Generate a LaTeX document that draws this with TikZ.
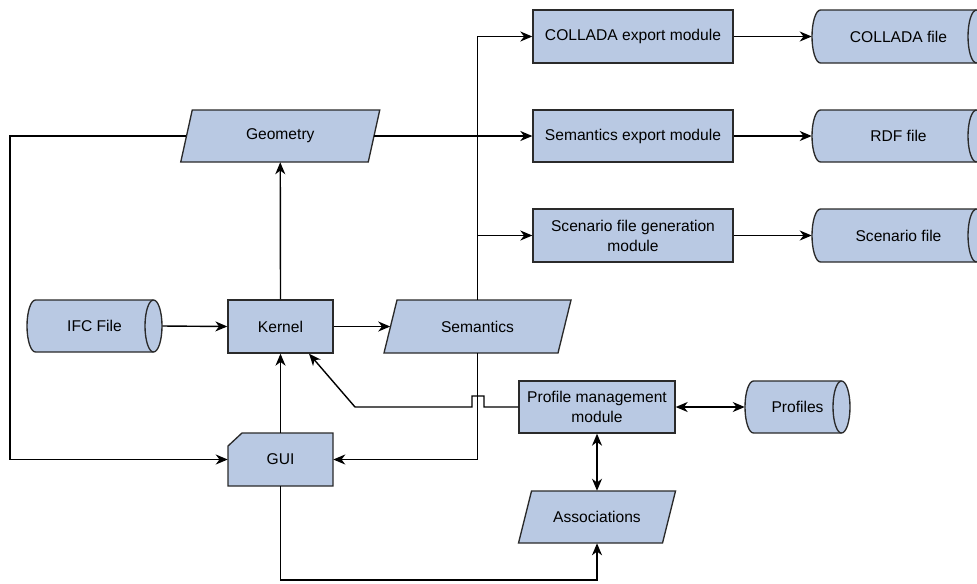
\documentclass[tikz,border=0pt]{standalone}
\usepackage{fontspec}
\setmainfont{Liberation Sans}
\usetikzlibrary{arrows.meta,calc}
\definecolor{fc}{HTML}{B9C9E3}
\definecolor{ln}{HTML}{2A2A2A}
\tikzset{
 shp/.style={draw=ln, fill=fc, line width=1pt, line join=miter},
 txtfont/.style={font=\fontsize{11.7}{15}\selectfont},
 box/.style={shp, inner sep=0pt, align=center, txtfont},
 lbl/.style={draw=none, fill=none, inner sep=0pt, align=center, txtfont},
 tip/.tip={Stealth[length=9pt,width=7.5pt,inset=2.8pt]},
 conn/.style={draw=black, line width=1.05pt, -tip},
 conn2/.style={draw=black, line width=1.05pt, tip-tip},
}
% storage (horizontal cylinder): name, x0, y0, x1, y1, text
\newcommand\storagenode[6]{%
 \pgfmathsetmacro\sry{(#5-#3)/2}%
 \pgfmathsetmacro\scx{(#2+#4)/2}%
 \pgfmathsetmacro\scy{-(#3+#5)/2}%
 \pgfmathsetmacro\sw{(#4-#2)*0.75}%
 \pgfmathsetmacro\sh{(#5-#3)*0.75}%
 \draw[shp] ({#2+8.5},-#3) -- ({#4-8.5},-#3) arc[start angle=90,end angle=-90,x radius=8.5,y radius=\sry] -- ({#2+8.5},-#5) arc[start angle=270,end angle=90,x radius=8.5,y radius=\sry] -- cycle;
 \draw[shp,fill=none] ({#4-8.5},-#3) arc[start angle=90,end angle=270,x radius=8.5,y radius=\sry];
 \node[lbl,minimum width=\sw pt,minimum height=\sh pt] (#1) at (\scx,\scy) {#6};
}
% parallelogram: name, xl(mid), xr(mid), y0, y1, skew, text
\newcommand\paranode[7]{%
 \pgfmathsetmacro\phs{#6/2}%
 \pgfmathsetmacro\pcx{(#2+#3)/2}%
 \pgfmathsetmacro\pcy{-(#4+#5)/2}%
 \pgfmathsetmacro\pw{(#3-#2)*0.75}%
 \pgfmathsetmacro\ph{(#5-#4)*0.75}%
 \draw[shp] ({#2+\phs},-#4) -- ({#3+\phs},-#4) -- ({#3-\phs},-#5) -- ({#2-\phs},-#5) -- cycle;
 \node[lbl,minimum width=\pw pt,minimum height=\ph pt] (#1) at (\pcx,\pcy) {#7};
}
\begin{document}
\begin{tikzpicture}[x=0.75pt,y=0.75pt]
\clip (0,0) rectangle (977,-583);

% rectangles
\node[box,minimum width=105*0.75pt,minimum height=53*0.75pt] (kernel) at (280.5,-326.5) {Kernel};
\node[box,minimum width=200*0.75pt,minimum height=53*0.75pt] (colmod) at (633,-36.5) {COLLADA export module};
\node[box,minimum width=200*0.75pt,minimum height=52*0.75pt] (semmod) at (633,-136) {Semantics export module};
\node[box,minimum width=200*0.75pt,minimum height=53*0.75pt] (scenmod) at (633,-235.5) {Scenario file generation\\module};
\node[box,minimum width=156*0.75pt,minimum height=52*0.75pt] (profmod) at (597,-407) {Profile management\\module};

% GUI (card shape)
\draw[shp] (242,-433) -- (333,-433) -- (333,-486) -- (228,-486) -- (228,-446) -- cycle;
\node[lbl,minimum width=105*0.75pt,minimum height=53*0.75pt] (gui) at (280.5,-459.5) {GUI};

% storages
\storagenode{ifc}{27}{300}{162}{352}{IFC File}
\storagenode{colfile}{812}{10}{985}{63}{COLLADA file}
\storagenode{rdf}{812}{110}{985}{162}{RDF file}
\storagenode{scenfile}{812}{209}{985}{262}{Scenario file}
\storagenode{profiles}{745}{381}{850}{433}{Profiles}

% parallelograms
\paranode{geo}{186.5}{374}{110}{162}{11.5}{Geometry}
\paranode{sem}{390.5}{564.5}{300}{353}{13}{Semantics}
\paranode{assoc}{525}{669}{491}{543}{13}{Associations}

% connectors
\draw[conn] (ifc.east) -- (kernel.west);
\draw[conn] (kernel.north) -- (geo.south);
\draw[conn] (kernel.east) -- (sem.west);
\draw[conn] (gui.north) -- (kernel.south);
\draw[conn] (geo.east) -- (semmod.west);
\coordinate (lft) at (10,-136);
\draw[conn] (geo.west) -- (lft) |- (gui.west);
\draw[conn] (sem.north) |- (colmod.west);
\draw[conn] (sem.north) |- (scenmod.west);
\draw[conn] (sem.south) |- (gui.east);
\draw[conn] (colmod.east) -- (colfile.west);
\draw[conn] (semmod.east) -- (rdf.west);
\draw[conn] (scenmod.east) -- (scenfile.west);
\draw[conn2] (profmod.east) -- (profiles.west);
\draw[conn2] (profmod.south) -- (assoc.north);
\draw[conn] (profmod.west) -- (484,-407) -- (484,-396) -- (472,-396) -- (472,-407) -- (355,-407) -- ([xshift=21.4pt]kernel.south);
\coordinate (bot) at (281,-580);
\draw[conn] (gui.south) -- (gui.south |- bot) -| (assoc.south);
\end{tikzpicture}
\end{document}
